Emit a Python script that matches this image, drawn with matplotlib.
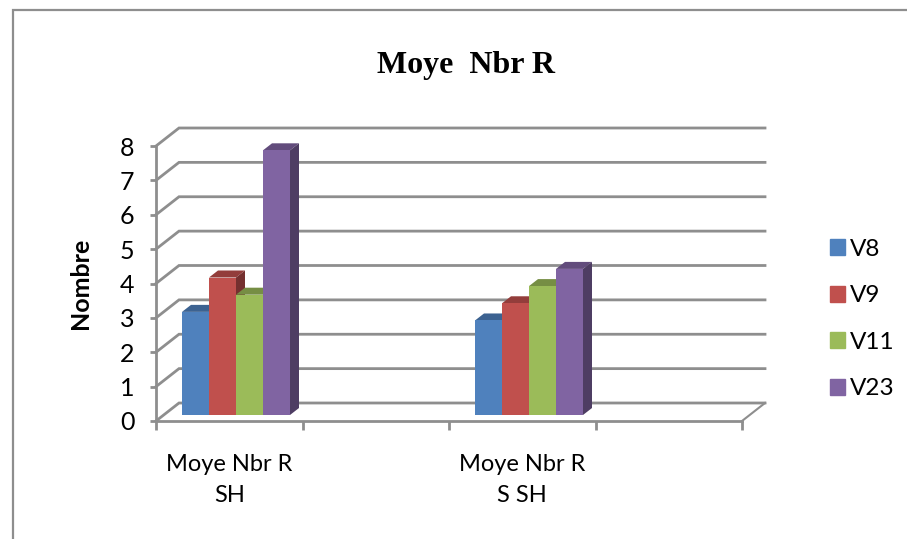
import matplotlib
matplotlib.use("Agg")
import matplotlib.pyplot as plt
from matplotlib.lines import Line2D
from matplotlib.patches import Patch, Polygon

categories = ["Moye Nbr R\nSH", "Moye Nbr R\nS SH"]
series_names = ["V8", "V9", "V11", "V23"]
v8 = [3.0, 2.75]
v9 = [4.0, 3.25]
v11 = [3.5, 3.75]
v23 = [7.7, 4.25]
y_ticks = [0, 1, 2, 3, 4, 5, 6, 7, 8]

faces = ["#4f81bd", "#c0504d", "#9bbb59", "#8064a2"]
tops = ["#3c6291", "#933d3b", "#768e44", "#624c7c"]
sides = ["#2f4e74", "#75302f", "#5e7136", "#4e3d63"]
GREY = "#8e8e8e"

W, H = 907, 539
plt.rcParams["font.family"] = ["Lato", "DejaVu Sans"]
fig = plt.figure(figsize=(W / 100, H / 100), dpi=100, facecolor="white")

# axes box = front face of the 3D chart, in pixels of the reference
x0, x1, y0, y8 = 156, 742, 421, 146
ax = fig.add_axes([x0 / W, 1 - y0 / H, (x1 - x0) / W, (y0 - y8) / H])
ax.set_xlim(0, 4)
ax.set_ylim(0, 8)
ux = (x1 - x0) / 4
uy = (y0 - y8) / 8

# depth of the walls and of the bars, px -> data
wall_dx, wall_dy = 23 / ux, 18 / uy
bar_dx, bar_dy = 9 / ux, 7 / uy
floor = 6 / uy
bar_w = 27 / ux
start = 26 / ux

for s in ["top", "right"]:
    ax.spines[s].set_visible(False)
for s in ["left", "bottom"]:
    ax.spines[s].set_color(GREY)
    ax.spines[s].set_linewidth(2)

ax.set_yticks(y_ticks)
ax.tick_params(axis="y", length=4.5, width=2, color=GREY, labelsize=18, pad=11)
ax.set_xticks([0, 1, 2, 3, 4])
ax.set_xticklabels([])
ax.tick_params(axis="x", which="major", length=6.5, width=2, color=GREY)
ax.set_xticks([0.5, 2.5], minor=True)
ax.set_xticklabels(categories, minor=True, fontsize=17, linespacing=1.55)
ax.tick_params(axis="x", which="minor", length=0, pad=24)

# back wall lines and the diagonals down the side wall
for v in y_ticks:
    ax.plot([0, wall_dx, 4 + wall_dx], [v, v + wall_dy, v + wall_dy],
            color=GREY, lw=2, clip_on=False, zorder=1, solid_joinstyle="miter")
ax.plot([4, 4 + wall_dx], [0, wall_dy], color=GREY, lw=1.5, clip_on=False, zorder=1)

# bars: front with ax.bar, top and side faces as polygons
for i, vals in enumerate([v8, v9, v11, v23]):
    for c, val in zip([0, 2], vals):
        left = c + start + i * bar_w
        right = left + bar_w
        top = floor + val
        ax.bar(left, val, bar_w, bottom=floor, align="edge", color=faces[i],
               zorder=3 + i * 0.1, clip_on=False)
        ax.add_patch(Polygon([(left, top), (right, top), (right + bar_dx, top + bar_dy),
                              (left + bar_dx, top + bar_dy)],
                             color=tops[i], lw=0, clip_on=False, zorder=2.9 + i * 0.1))
        ax.add_patch(Polygon([(right, floor), (right + bar_dx, floor + bar_dy),
                              (right + bar_dx, top + bar_dy), (right, top)],
                             color=sides[i], lw=0, clip_on=False, zorder=2.9 + i * 0.1))

fig.text(466 / W, 1 - 65 / H, "Moye  Nbr R", family="Liberation Serif", weight="bold",
         fontsize=23, ha="center", va="center")
fig.text(81 / W, 1 - 283 / H, "Nombre", weight="bold", fontsize=18, rotation=90,
         ha="center", va="center")

handles = [Patch(color=c) for c in faces]
fig.legend(handles, series_names, loc="center left", bbox_to_anchor=(830 / W, 1 - 319 / H),
           frameon=False, fontsize=17.5, handlelength=0.62, handleheight=0.62,
           handletextpad=0.2, labelspacing=1.05, borderpad=0, borderaxespad=0)

# chart frame, cut by the image edge
fig.add_artist(Line2D([12.5 / W, 12.5 / W, 1], [0, 1 - 9.5 / H, 1 - 9.5 / H],
                      color=GREY, lw=1.6, solid_joinstyle="miter"))

fig.savefig("out.png", dpi=100)
